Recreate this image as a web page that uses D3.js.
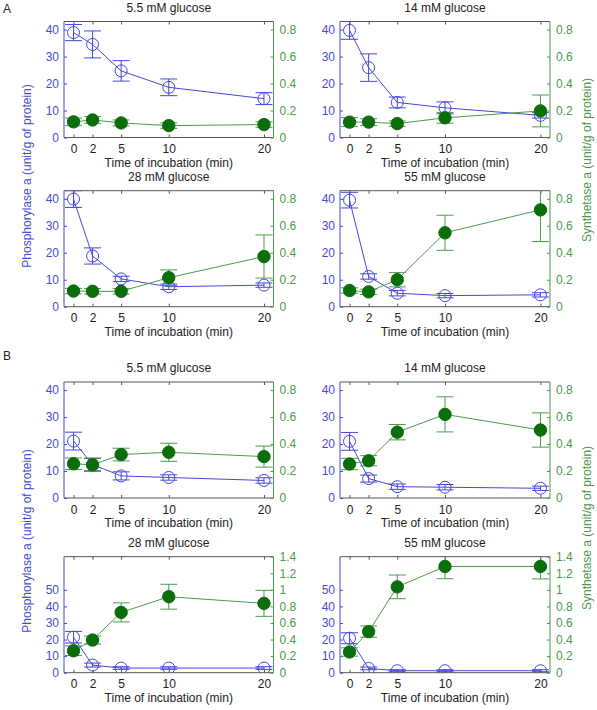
<!DOCTYPE html>
<html><head><meta charset="utf-8">
<script src="https://cdn.jsdelivr.net/npm/d3@7"></script>
<style>
body{margin:0;background:#fff;}
text{font-family:"Liberation Sans",Arial,Helvetica,sans-serif;}
</style></head>
<body><svg id="c" width="597" height="710"></svg>
<script>
// ---------- data ----------
const times = [0, 2, 5, 10, 20];
const xTicks = [0, 2, 5, 10, 20];
const glucoseTitles = ["5.5 mM glucose", "14 mM glucose", "28 mM glucose", "55 mM glucose"];
const sectionLabels = ["A", "B"];

// Section A: phosphorylase a (left axis), mean and error
const phosA_mean = [
  [38.9, 34.5, 24.7, 18.6, 14.4],
  [39.7, 25.9, 13.0, 11.0, 8.2],
  [39.9, 18.8, 10.3, 7.4, 8.0],
  [39.5, 11.2, 5.0, 4.1, 4.4]
];
const phosA_err = [
  [3.0, 5.0, 3.8, 3.1, 2.2],
  [3.3, 5.1, 2.0, 2.2, 1.0],
  [3.1, 3.0, 1.0, 1.0, 0.8],
  [2.9, 1.0, 1.0, 0.8, 0.8]
];
// Section A: synthetase a (right axis)
const synA_mean = [
  [0.116, 0.130, 0.108, 0.088, 0.096],
  [0.114, 0.114, 0.103, 0.146, 0.197],
  [0.116, 0.114, 0.114, 0.215, 0.372],
  [0.120, 0.110, 0.200, 0.548, 0.718]
];
const synA_err = [
  [0.028, 0.025, 0.022, 0.020, 0.020],
  [0.033, 0.025, 0.020, 0.040, 0.118],
  [0.020, 0.020, 0.020, 0.058, 0.160],
  [0.020, 0.020, 0.053, 0.130, 0.235]
];
// Section B
const phosB_mean = [
  [21.1, 12.4, 8.2, 7.6, 6.5],
  [21.0, 7.2, 4.2, 4.0, 3.6],
  [21.4, 4.6, 2.8, 2.8, 2.8],
  [20.8, 2.6, 1.2, 1.2, 1.2]
];
const phosB_err = [
  [3.3, 2.3, 1.5, 1.0, 1.0],
  [3.3, 1.3, 1.0, 1.0, 0.8],
  [3.5, 1.2, 0.8, 0.8, 0.8],
  [3.3, 0.8, 0.6, 0.6, 0.6]
];
const synB_mean = [
  [0.254, 0.246, 0.322, 0.339, 0.307],
  [0.252, 0.276, 0.488, 0.620, 0.504],
  [0.265, 0.394, 0.728, 0.917, 0.837],
  [0.250, 0.496, 1.036, 1.282, 1.282]
];
const synB_err = [
  [0.043, 0.050, 0.047, 0.067, 0.078],
  [0.042, 0.038, 0.057, 0.130, 0.127],
  [0.058, 0.048, 0.115, 0.150, 0.157],
  [0.050, 0.068, 0.143, 0.147, 0.150]
];
// axis tick values
const leftTicksSmall = [0, 10, 20, 30, 40];
const rightTicksSmall = [0, 0.2, 0.4, 0.6, 0.8];
const leftTicksLarge = [0, 10, 20, 30, 40, 50];
const rightTicksLarge = [0, 0.2, 0.4, 0.6, 0.8, 1.0, 1.2, 1.4];
const leftLabel = "Phosphorylase a (unit/g of protein)";
const rightLabel = "Synthetase a (unit/g of protein)";
const xLabel = "Time of incubation (min)";

// ---------- style / layout ----------
const BLUE = "#4646d8", BLUE_TXT = "#4a4ad6";
const GREEN_LINE = "#4e9a4e", GREEN_TXT = "#4a9a4a", GREEN_DOT = "#0b6e0b";
const FRAME = "#555";
const cols = [[64, 273.5], [340, 550]];
const H = 116;
const svg = d3.select("#c");
let clipId = 0;

function panel(x0, x1, top, title, pm, pe, sm, se, big) {
  const x = d3.scaleLinear().domain([-1, 21]).range([x0, x1]);
  const yl = d3.scaleLinear().domain(big ? [0, 70] : [0, 43]).range([top + H, top]);
  const yr = d3.scaleLinear().domain(big ? [0, 1.4] : [0, 0.86]).range([top + H, top]);
  const lt = big ? leftTicksLarge : leftTicksSmall;
  const rt = big ? rightTicksLarge : rightTicksSmall;
  const g = svg.append("g");
  const cid = "clip" + (clipId++);
  g.append("clipPath").attr("id", cid).append("rect")
    .attr("x", x0).attr("y", top).attr("width", x1 - x0).attr("height", H);

  // title
  g.append("text").attr("x", (x0 + x1) / 2).attr("y", top - 10).attr("text-anchor", "middle")
    .attr("font-size", 12).attr("fill", "#222").text(title);

  // x axes (bottom + top, inward ticks)
  const xb = g.append("g").attr("transform", `translate(0,${top + H})`)
    .call(d3.axisBottom(x).tickValues(xTicks).tickSize(-3).tickPadding(7));
  const xt = g.append("g").attr("transform", `translate(0,${top})`)
    .call(d3.axisTop(x).tickValues(xTicks).tickSize(-3).tickFormat(""));
  [xb, xt].forEach(a => {
    a.select(".domain").attr("stroke", FRAME).attr("d", `M${x0},0H${x1}`);
    a.selectAll(".tick line").attr("stroke", FRAME);
    a.selectAll("text").attr("font-size", 12).attr("fill", "#222");
  });
  xb.selectAll(".tick text").attr("dy", "0.71em");

  // left axis
  const al = g.append("g").attr("transform", `translate(${x0},0)`)
    .call(d3.axisLeft(yl).tickValues(lt).tickSize(-3).tickPadding(5).tickFormat(d3.format("d")));
  al.select(".domain").attr("stroke", BLUE).attr("d", `M0,${top + H}V${top}`);
  al.selectAll(".tick line").attr("stroke", BLUE);
  al.selectAll("text").attr("font-size", 12).attr("fill", BLUE_TXT);

  // right axis
  const ar = g.append("g").attr("transform", `translate(${x1},0)`)
    .call(d3.axisRight(yr).tickValues(rt).tickSize(-3).tickPadding(6).tickFormat(d => d3.format("~g")(+d.toFixed(2))));
  ar.select(".domain").attr("stroke", GREEN_TXT).attr("d", `M0,${top + H}V${top}`);
  ar.selectAll(".tick line").attr("stroke", GREEN_TXT);
  ar.selectAll("text").attr("font-size", 12).attr("fill", GREEN_TXT);

  // x label
  g.append("text").attr("x", (x0 + x1) / 2).attr("y", top + H + 29).attr("text-anchor", "middle")
    .attr("font-size", 12).attr("fill", "#222").text(xLabel);

  const plot = g.append("g").attr("clip-path", `url(#${cid})`);
  const cap = 8.5;
  function series(means, errs, ys, lineColor, errColor, filled) {
    const pts = times.map((t, i) => ({ t, m: means[i], e: errs[i] }));
    plot.append("path").datum(pts)
      .attr("d", d3.line().x(d => x(d.t)).y(d => ys(d.m)))
      .attr("fill", "none").attr("stroke", lineColor).attr("stroke-width", 1);
    const eb = plot.append("g").attr("stroke", errColor).attr("stroke-width", 1).attr("fill", "none");
    pts.forEach(d => {
      const yt = ys(d.m + d.e), ybm = ys(d.m - d.e), xc = x(d.t);
      eb.append("path").attr("d",
        `M${xc},${yt}V${ybm}M${xc - cap},${yt}H${xc + cap}M${xc - cap},${ybm}H${xc + cap}`);
    });
    plot.append("g").selectAll("circle").data(pts).join("circle")
      .attr("cx", d => x(d.t)).attr("cy", d => ys(d.m)).attr("r", filled ? 6.2 : 6)
      .attr("fill", filled ? GREEN_DOT : "none")
      .attr("stroke", filled ? GREEN_DOT : BLUE).attr("stroke-width", 1);
  }
  series(pm, pe, yl, BLUE, BLUE, false);
  series(sm, se, yr, GREEN_LINE, GREEN_LINE, true);
}

const sections = [
  { label: sectionLabels[0], labelY: 8, tops: [21.5, 190.7], pm: phosA_mean, pe: phosA_err, sm: synA_mean, se: synA_err,
    leftY: 176, rightY: 160 },
  { label: sectionLabels[1], labelY: 355, tops: [382, 556.7], pm: phosB_mean, pe: phosB_err, sm: synB_mean, se: synB_err,
    leftY: 541, rightY: 528 }
];
sections.forEach(s => {
  svg.append("text").attr("x", 3).attr("y", s.labelY + 4.5).attr("font-size", 12).attr("fill", "#222").text(s.label);
  for (let i = 0; i < 4; i++) {
    const r = Math.floor(i / 2), c = i % 2;
    const big = s.label === "B" && r === 1;
    panel(cols[c][0], cols[c][1], s.tops[r], glucoseTitles[i], s.pm[i], s.pe[i], s.sm[i], s.se[i], big);
  }
  svg.append("text").attr("transform", `translate(31,${s.leftY}) rotate(-90)`).attr("text-anchor", "middle")
    .attr("font-size", 12).attr("fill", BLUE_TXT).text(leftLabel);
  svg.append("text").attr("transform", `translate(591,${s.rightY}) rotate(-90)`).attr("text-anchor", "middle")
    .attr("font-size", 12).attr("fill", GREEN_TXT).text(rightLabel);
});
</script></body></html>
